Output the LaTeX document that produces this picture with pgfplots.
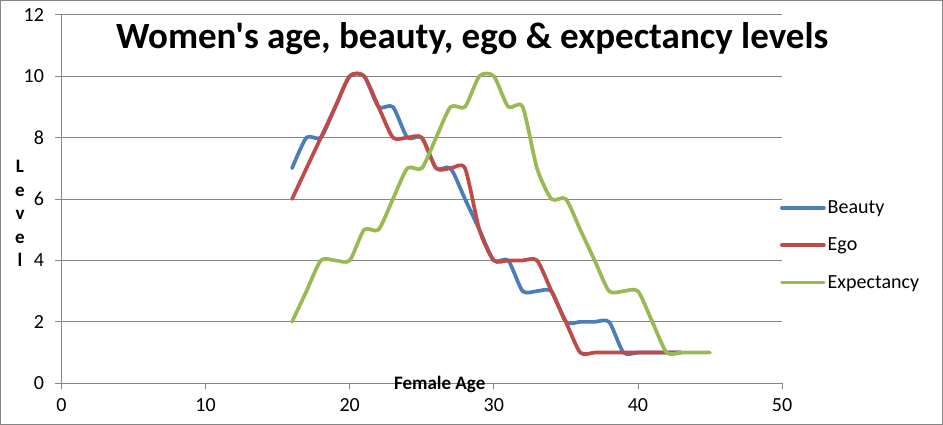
\documentclass[border=0pt]{standalone}
\usepackage{pgfplots}
\pgfplotsset{compat=1.18}
\usepackage{fontspec}
\setmainfont{Carlito}[Ligatures=TeXOff]
\definecolor{xblue}{HTML}{4A7EBB}
\definecolor{xred}{HTML}{BE4B48}
\definecolor{xgreen}{HTML}{98B954}
\definecolor{xgray}{HTML}{868686}
\begin{document}
\begin{tikzpicture}
\useasboundingbox (-61.5pt,-41.7pt) rectangle (881.5pt,383.3pt);
\draw[xgray, line width=1.2pt] (-60.9pt,-41.1pt) rectangle (880.9pt,382.7pt);
\begin{axis}[
  scale only axis, width=720.5pt, height=368.6pt,
  xmin=0, xmax=50, ymin=0, ymax=12,
  xtick={0,10,...,50}, ytick={0,2,...,12},
  axis x line*=bottom, axis y line*=left,
  axis line style={xgray, line width=0.8pt, -},
  ymajorgrids, grid style={xgray, line width=0.8pt},
  tick style={xgray, line width=0.8pt},
  tick align=outside, major tick length=6pt,
  ticklabel style={font=\fontsize{20}{24}\selectfont, text=black},
  /pgf/number format/assume math mode=true,
  xticklabel style={yshift=-6pt},
  yticklabel style={xshift=-8pt},
  title={Women's age, beauty, ego \& expectancy levels},
  title style={at={(axis description cs:0.570,0.893)}, anchor=base, font=\fontsize{37}{44}\selectfont\bfseries},
  xlabel={Female Age},
  xlabel style={at={(axis description cs:0.525,0)}, anchor=base, yshift=-6pt, font=\fontsize{19}{23}\selectfont\bfseries},
  ylabel={L\\e\\v\\e\\l},
  ylabel style={rotate=-90, at={(axis description cs:-0.0576,0.461)}, anchor=center, align=center, font=\fontsize{19}{23.5}\selectfont\bfseries},
  legend style={at={(0.997,0.375)}, anchor=west, draw=none, fill=none, font=\fontsize{20}{24}\selectfont, row sep=19pt, inner sep=0pt},
  legend cell align=left,
  legend image code/.code={\draw[#1, line width=3.7pt, line cap=round] (0pt,0pt) -- (42pt,0pt);},
  every axis plot/.append style={smooth, tension=0.42, line width=3.7pt, line cap=round, line join=round, mark=none},
]
\addplot[xblue] coordinates {(16,7) (17,8) (18,8) (19,9) (20,10) (21,10) (22,9) (23,9) (24,8) (25,8) (26,7) (27,7) (28,6) (29,5) (30,4) (31,4) (32,3) (33,3) (34,3) (35,2) (36,2) (37,2) (38,2) (39,1) (40,1) (41,1) (42,1) (43,1)};
\addlegendentry{Beauty}
\addplot[xred] coordinates {(16,6) (17,7) (18,8) (19,9) (20,10) (21,10) (22,9) (23,8) (24,8) (25,8) (26,7) (27,7) (28,7) (29,5) (30,4) (31,4) (32,4) (33,4) (34,3) (35,2) (36,1) (37,1) (38,1) (39,1) (40,1) (41,1) (42,1) (43,1)};
\addlegendentry{Ego}
\addplot[xgreen] coordinates {(16,2) (17,3) (18,4) (19,4) (20,4) (21,5) (22,5) (23,6) (24,7) (25,7) (26,8) (27,9) (28,9) (29,10) (30,10) (31,9) (32,9) (33,7) (34,6) (35,6) (36,5) (37,4) (38,3) (39,3) (40,3) (41,2) (42,1) (43,1) (44,1) (45,1)};
\addlegendentry{Expectancy}
\end{axis}
\end{tikzpicture}
\end{document}
